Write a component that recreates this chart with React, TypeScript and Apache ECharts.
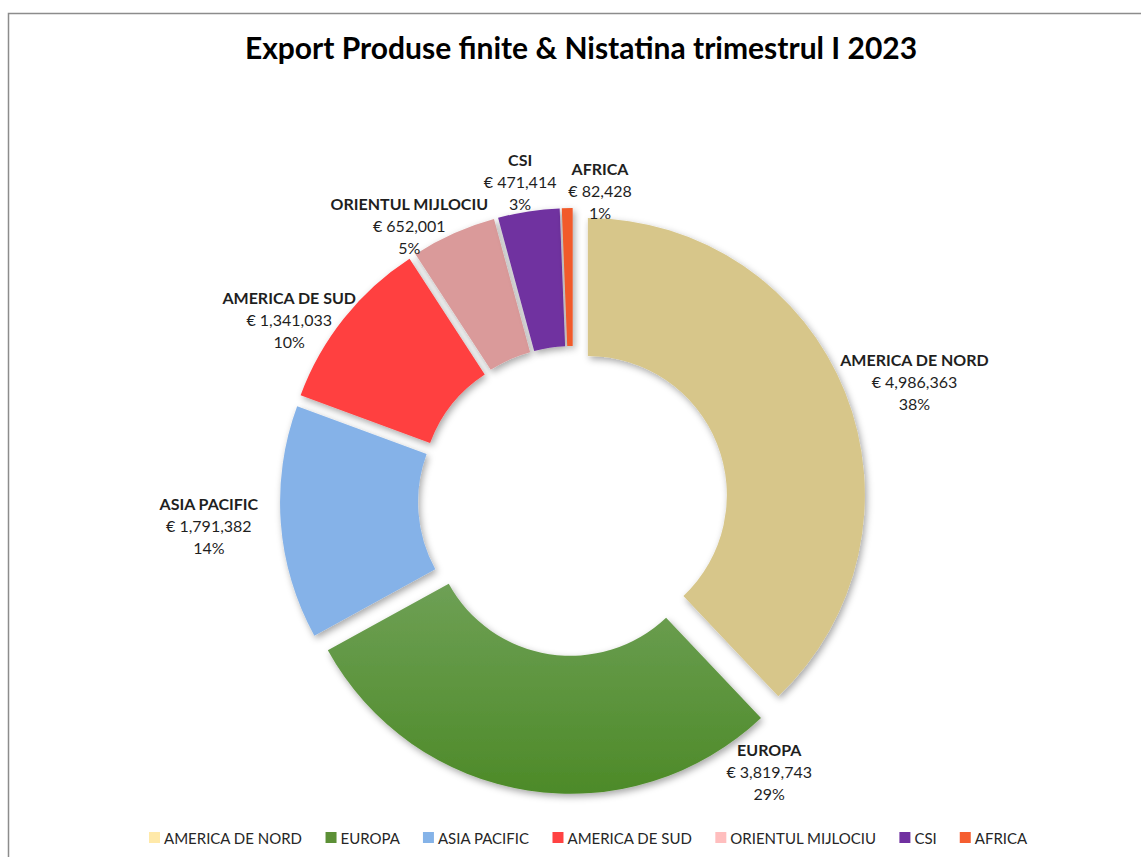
import React, { useEffect, useRef } from 'react';
import * as echarts from 'echarts';

const categories = ['AMERICA DE NORD', 'EUROPA', 'ASIA PACIFIC', 'AMERICA DE SUD', 'ORIENTUL MIJLOCIU', 'CSI', 'AFRICA'];
const values = [4986363, 3819743, 1791382, 1341033, 652001, 471414, 82428];
const percentLabels = ['38%', '29%', '14%', '10%', '5%', '3%', '1%'];

const sliceColors = ['#D7C68A', '#5C9239', '#85B2E8', '#FF3F3F', '#DA9A9A', '#7030A0', '#F15A2A'];
const legendColors = ['#FFE9A9', '#5C9036', '#85B3E8', '#FF4242', '#FFBEBE', '#7030A0', '#F55E30'];

// label nudges relative to the library's outside label anchor
const labelNudges: [number, number][] = [
  [60, -7],
  [243, -29],
  [-62, 2],
  [-47, 8],
  [-40, 1],
  [-7, -20],
  [33, -8],
];

const FONT = 'Lato, "Open Sans", sans-serif';

const fmt = (v: number) => v.toLocaleString('en-US');

export default function App() {
  const ref = useRef<HTMLDivElement>(null);
  useEffect(() => {
    if (!ref.current) return;
    const chart = echarts.init(ref.current, undefined, { renderer: 'svg' });
    const europaGradient = new echarts.graphic.LinearGradient(0, 0, 0, 1, [
      { offset: 0, color: '#6EA055' },
      { offset: 1, color: '#4D8A28' },
    ]);
    const data = categories.map((name, i) => ({
      name,
      value: values[i],
      selected: true,
      itemStyle: { color: i === 1 ? europaGradient : sliceColors[i] },
    }));
    chart.setOption({
      animation: false,
      backgroundColor: '#ffffff',
      title: {
        text: 'Export Produse finite & Nistatina trimestrul I 2023',
        left: 576,
        top: 27,
        textAlign: 'center',
        textStyle: { fontFamily: FONT, fontSize: 30, fontWeight: 'bold', color: '#000000' },
      },
      legend: {
        left: 144,
        top: 825,
        icon: 'rect',
        itemWidth: 11,
        itemHeight: 11,
        itemGap: 23,
        selectedMode: false,
        textStyle: { fontFamily: FONT, fontSize: 15, color: '#262626', padding: [0, 0, 0, -1] },
        data: categories.map((name, i) => ({ name, itemStyle: { color: legendColors[i] } })),
      },
      graphic: [
        {
          type: 'rect',
          shape: { x: 8.5, y: 13.5, width: 1140, height: 850 },
          style: { fill: 'none', stroke: '#8C8C8C', lineWidth: 1.5 },
          silent: true,
        },
      ],
      series: [
        {
          type: 'pie',
          center: [573, 501],
          radius: [139, 277],
          startAngle: 90,
          clockwise: true,
          selectedMode: 'multiple',
          selectedOffset: 16,
          avoidLabelOverlap: false,
          emphasis: { disabled: true },
          itemStyle: {
            shadowBlur: 7,
            shadowOffsetX: 2,
            shadowOffsetY: 3,
            shadowColor: 'rgba(0,0,0,0.35)',
          },
          label: {
            show: true,
            position: 'outside',
            distanceToLabelLine: 0,
            color: '#1f1f1f',
            fontFamily: FONT,
            formatter: (p: any) =>
              `{n|${p.name}}\n{v|€ ${fmt(p.value)}}\n{p|${percentLabels[p.dataIndex]}}`,
            rich: {
              n: { fontFamily: FONT, fontSize: 16, fontWeight: 'bold', lineHeight: 22, color: '#1f1f1f' },
              v: { fontFamily: FONT, fontSize: 16, lineHeight: 22, color: '#1f1f1f' },
              p: { fontFamily: FONT, fontSize: 16, lineHeight: 22, color: '#1f1f1f' },
            },
          },
          labelLine: { show: false, length: 10, length2: 0 },
          labelLayout: (params: any) => ({
            align: 'center',
            verticalAlign: 'middle',
            dx: labelNudges[params.dataIndex][0],
            dy: labelNudges[params.dataIndex][1],
          }),
          data,
        },
      ],
    });
    return () => chart.dispose();
  }, []);
  return (
    <div
      ref={ref}
      style={{ position: 'absolute', left: 0, top: 0, width: 1141, height: 857 }}
    />
  );
}
